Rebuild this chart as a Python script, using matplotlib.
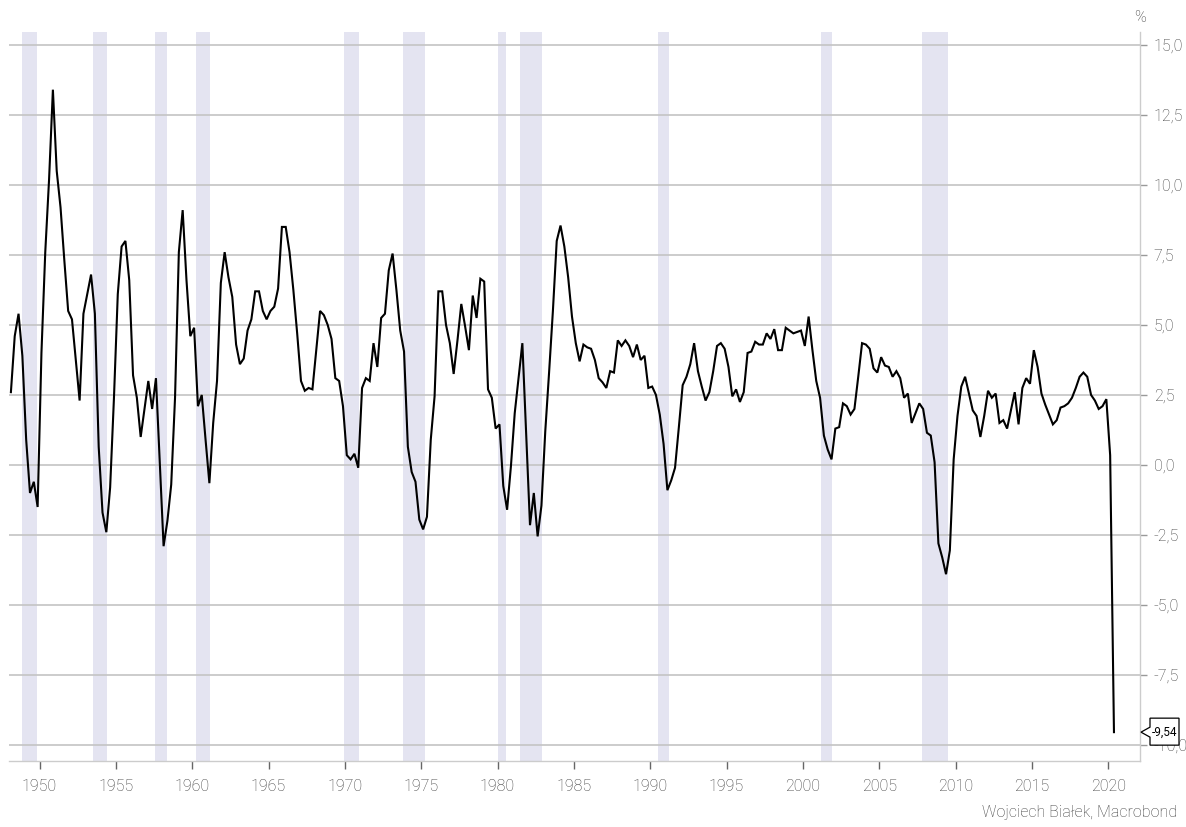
import matplotlib
matplotlib.use("Agg")
import matplotlib.pyplot as plt
from matplotlib.patches import Polygon
from matplotlib.transforms import IdentityTransform
import numpy as np
import pandas as pd
from matplotlib import font_manager

# ---------------- data ----------------
start_quarter = "1948Q1"
end_quarter = "2020Q2"

gdp_yoy = [
    2.6, 4.6, 5.4, 3.9, 0.9, -1.0, -0.6, -1.5,            # 1948-1949
    4.0, 7.6, 10.2, 13.4, 10.5, 9.2, 7.3, 5.5,            # 1950-1951
    5.2, 3.75, 2.3, 5.4, 6.1, 6.8, 5.4, 0.65,             # 1952-1953
    -1.7, -2.4, -0.8, 2.4, 6.1, 7.8, 8.0, 6.6,            # 1954-1955
    3.2, 2.4, 1.0, 2.0, 3.0, 2.0, 3.1, 0.1,               # 1956-1957
    -2.9, -2.0, -0.7, 2.4, 7.6, 9.1, 6.6, 4.6,            # 1958-1959
    4.9, 2.1, 2.5, 0.9, -0.65, 1.5, 3.0, 6.5,             # 1960-1961
    7.6, 6.7, 6.0, 4.3, 3.6, 3.8, 4.8, 5.2,               # 1962-1963
    6.2, 6.2, 5.5, 5.2, 5.5, 5.65, 6.3, 8.5,              # 1964-1965
    8.5, 7.6, 6.25, 4.7, 3.0, 2.65, 2.75, 2.7,            # 1966-1967
    4.1, 5.5, 5.35, 5.0, 4.5, 3.1, 3.0, 2.1,              # 1968-1969
    0.35, 0.2, 0.4, -0.1, 2.75, 3.1, 3.0, 4.35,           # 1970-1971
    3.5, 5.25, 5.4, 6.95, 7.55, 6.25, 4.8, 4.05,          # 1972-1973
    0.65, -0.25, -0.6, -1.95, -2.3, -1.85, 0.9, 2.45,     # 1974-1975
    6.2, 6.2, 5.0, 4.35, 3.25, 4.45, 5.75, 4.95,          # 1976-1977
    4.1, 6.05, 5.25, 6.65, 6.55, 2.7, 2.4, 1.3,           # 1978-1979
    1.45, -0.75, -1.6, -0.05, 1.85, 3.1, 4.35, 1.1,       # 1980-1981
    -2.15, -1.0, -2.55, -1.45, 1.2, 3.3, 5.5, 8.0,        # 1982-1983
    8.55, 7.8, 6.7, 5.3, 4.35, 3.7, 4.3, 4.2,             # 1984-1985
    4.15, 3.75, 3.1, 2.95, 2.75, 3.35, 3.3, 4.45,         # 1986-1987
    4.25, 4.45, 4.25, 3.85, 4.3, 3.75, 3.9, 2.75,         # 1988-1989
    2.8, 2.5, 1.8, 0.75, -0.9, -0.55, -0.1, 1.35,         # 1990-1991
    2.85, 3.15, 3.6, 4.35, 3.35, 2.8, 2.3, 2.6,           # 1992-1993
    3.35, 4.25, 4.35, 4.15, 3.5, 2.45, 2.7, 2.25,         # 1994-1995
    2.6, 4.0, 4.05, 4.4, 4.3, 4.3, 4.7, 4.5,              # 1996-1997
    4.85, 4.1, 4.1, 4.9, 4.8, 4.7, 4.75, 4.8,             # 1998-1999
    4.25, 5.3, 4.1, 3.0, 2.4, 1.05, 0.55, 0.2,            # 2000-2001
    1.3, 1.35, 2.2, 2.1, 1.8, 2.0, 3.15, 4.35,            # 2002-2003
    4.3, 4.15, 3.45, 3.3, 3.85, 3.55, 3.5, 3.15,          # 2004-2005
    3.35, 3.1, 2.4, 2.55, 1.5, 1.85, 2.2, 2.0,            # 2006-2007
    1.15, 1.05, 0.1, -2.8, -3.3, -3.9, -3.05, 0.2,        # 2008-2009
    1.75, 2.8, 3.15, 2.55, 1.95, 1.75, 1.0, 1.75,         # 2010-2011
    2.65, 2.4, 2.55, 1.5, 1.6, 1.3, 1.95, 2.6,            # 2012-2013
    1.45, 2.75, 3.1, 2.9, 4.1, 3.5, 2.55, 2.15,           # 2014-2015
    1.8, 1.45, 1.6, 2.05, 2.1, 2.2, 2.4, 2.75,            # 2016-2017
    3.15, 3.3, 3.15, 2.5, 2.3, 2.0, 2.1, 2.35,            # 2018-2019
    0.35, -9.54,                                          # 2020
]

recession_starts = [1948.83, 1953.50, 1957.58, 1960.25, 1969.92, 1973.83,
                    1980.00, 1981.50, 1990.50, 2001.17, 2007.83]
recession_ends = [1949.83, 1954.42, 1958.33, 1961.17, 1970.92, 1975.25,
                  1980.58, 1982.92, 1991.25, 2001.92, 2009.50]

x_ticks = [1950, 1955, 1960, 1965, 1970, 1975, 1980, 1985, 1990, 1995,
           2000, 2005, 2010, 2015, 2020]
y_ticks = [15.0, 12.5, 10.0, 7.5, 5.0, 2.5, 0.0, -2.5, -5.0, -7.5, -10.0]
last_label = "-9,54"
source_text = "Wojciech Białek, Macrobond"
unit_text = "%"

# ---------------- plotting ----------------
quarters = pd.period_range(start_quarter, end_quarter, freq="Q")
xq = np.array([p.year + (p.quarter - 0.5) / 4.0 for p in quarters])

names = {f.name for f in font_manager.fontManager.ttflist}
fam = []
for cand in ["Liberation Sans Narrow", "Roboto", "DejaVu Sans"]:
    if cand in names:
        fam.append(cand)
plt.rcParams["font.family"] = fam
plt.rcParams["font.weight"] = "light"

TXT = "#3c3c3c"
W, H = 1186, 827
fig = plt.figure(figsize=(W / 100, H / 100), dpi=100)
ax_left, ax_right, ax_top, ax_bottom = 9, 1140, 32, 761
ax = fig.add_axes([ax_left / W, 1 - ax_bottom / H, (ax_right - ax_left) / W, (ax_bottom - ax_top) / H])

for s, e in zip(recession_starts, recession_ends):
    ax.axvspan(s, e, color="#e4e4f1", lw=0, zorder=0)

ax.plot(xq, gdp_yoy, color="black", lw=1.5, zorder=3, solid_joinstyle="miter")

ax.set_xlim(1948.0, 2022.08)
ax.set_ylim(-10.57, 15.46)

ax.yaxis.tick_right()
ax.set_yticks(y_ticks)
ax.set_yticklabels([f"{v:.1f}".replace(".", ",") for v in y_ticks])
ax.set_xticks(x_ticks)
ax.set_xticklabels([str(v) for v in x_ticks])
ax.grid(axis="y", color="#c4c4c4", lw=1.2, zorder=1)
ax.set_axisbelow(True)

for side in ["top", "left"]:
    ax.spines[side].set_visible(False)
for side in ["bottom", "right"]:
    ax.spines[side].set_color("#cccccc")
    ax.spines[side].set_linewidth(1.0)

ax.tick_params(axis="y", which="both", direction="out", length=5, width=1,
               color="#999999", labelcolor=TXT, labelsize=11.5, pad=5)
ax.tick_params(axis="x", which="both", direction="out", length=6, width=1,
               color="#666666", labelcolor=TXT, labelsize=11.5, pad=7)

fig.text(1140 / W, 1 - 17 / H, unit_text, ha="center", va="center", color=TXT, fontsize=11.5)
fig.text(1177 / W, 1 - 812 / H, source_text, ha="right", va="center", color=TXT, fontsize=11.5)

# callout tag for the last value
fig.canvas.draw()
tip = ax.transData.transform((ax.get_xlim()[1], gdp_yoy[-1]))
tx, ty = tip[0] + 1, tip[1]
poly = [(tx + 9, ty + 14), (tx + 38, ty + 14), (tx + 38, ty - 13), (tx + 9, ty - 13),
        (tx + 9, ty - 5), (tx, ty), (tx + 9, ty + 5)]
fig.add_artist(Polygon(poly, closed=True, facecolor="white", edgecolor="black",
                       lw=0.9, transform=IdentityTransform(), zorder=10))
t = fig.text(0, 0, last_label, ha="center", va="center", fontsize=8.5,
             fontweight="normal", color="black", zorder=11)
t.set_transform(IdentityTransform())
t.set_position((tx + 23.5, ty))

fig.savefig("out.png", dpi=100)
